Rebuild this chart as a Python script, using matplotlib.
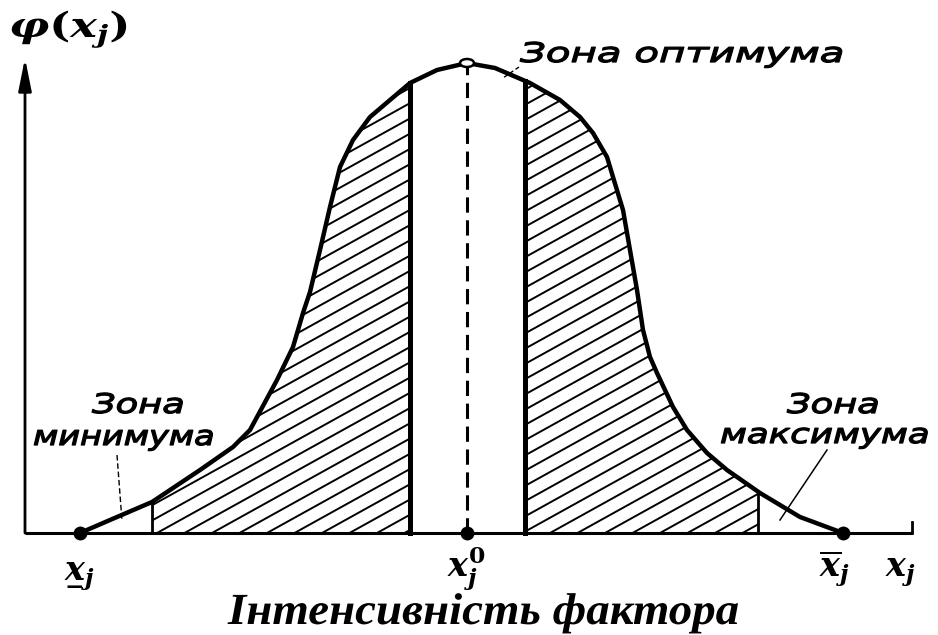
import numpy as np
import matplotlib
matplotlib.use("Agg")
import matplotlib.pyplot as plt
from matplotlib import patheffects
from matplotlib.transforms import Affine2D
from matplotlib.patches import Polygon, Ellipse

plt.rcParams['mathtext.fontset'] = 'custom'
plt.rcParams['mathtext.it'] = 'DejaVu Serif:italic:bold'
plt.rcParams['mathtext.rm'] = 'DejaVu Serif:bold'
plt.rcParams['mathtext.bf'] = 'DejaVu Serif:italic:bold'

# ---------------- data ----------------
# factor intensity (x) and response phi(x) in drawing units
curve_x = [55, 85, 127, 175, 208, 225, 252, 268, 278, 285, 295, 305, 315, 328,
           345, 365, 385, 412, 442, 470, 505, 535, 555, 568, 582, 588, 598, 605,
           612, 618, 625, 632, 648, 662, 682, 702, 735, 775, 818]
curve_y = [0, 13, 31, 63, 86, 103, 153, 186, 220, 241, 283, 326, 366, 393,
           416, 433, 450, 463, 470, 465, 450, 433, 416, 400, 376, 356, 323, 283,
           243, 203, 176, 160, 126, 103, 80, 63, 40, 16, 0]

x_min, x_opt, x_max = 55, 442, 818           # lower limit, optimum, upper limit
zone_left = [127, 385]                       # hatched zone (left of optimum)
zone_right = [500, 733]                      # hatched zone (right of optimum)
x_axis_end = 887
y_axis_top = 475

title = "Інтенсивність фактора"
label_opt = ["Зона оптимума"]
label_min = ["Зона", "минимума"]
label_max = ["Зона", "максимума"]

# ---------------- figure ----------------
fig = plt.figure(figsize=(9.38, 6.35), dpi=100)
ax = fig.add_axes([0, 0, 1, 1])
ax.set_xlim(-25, 913)
ax.set_ylim(-102, 533)
ax.axis('off')

cx = np.array(curve_x, float)
cy = np.array(curve_y, float)

def yc(x):
    return float(np.interp(x, cx, cy))

# axes
ax.plot([0, x_axis_end], [0, 0], color='black', lw=2.2, solid_capstyle='butt', zorder=3)
ax.plot([x_axis_end, x_axis_end], [0, 11], color='black', lw=2, zorder=3)
ax.annotate('', xy=(0, y_axis_top), xytext=(0, 0),
            arrowprops=dict(arrowstyle='-|>,head_length=1.4,head_width=0.28',
                            color='black', lw=2, mutation_scale=14,
                            shrinkA=0, shrinkB=0), zorder=3)

# hatched zones
tan_a = np.tan(np.radians(29))
spacing = 27.5
for (a, b), x0 in ((zone_left, 132), (zone_right, 525)):
    m = (cx > a) & (cx < b)
    px = [a, a] + list(cx[m]) + [b, b]
    py = [0, yc(a)] + list(cy[m]) + [yc(b), 0]
    poly = Polygon(np.column_stack([px, py]), closed=True, fc='none', ec='none')
    ax.add_patch(poly)
    for c in np.arange(x0 - 40 * spacing, b + spacing, spacing):
        ln, = ax.plot([c, c + 1000], [0, 1000 * tan_a], color='black', lw=1.4, zorder=2)
        ln.set_clip_path(poly)

# zone boundaries
for xb in zone_left[1:] + zone_right[:1]:
    ax.plot([xb, xb], [0, yc(xb)], color='black', lw=3.6, zorder=3)
for xb in zone_left[:1] + zone_right[1:]:
    ax.plot([xb, xb], [0, yc(xb)], color='black', lw=2, zorder=3)

# optimum dashed line
ax.plot([x_opt, x_opt], [0, yc(x_opt)], color='black', lw=2.2,
        linestyle=(0, (5, 2.5)), zorder=3)

# curve
ax.plot(cx, cy, color='black', lw=3.2, solid_joinstyle='round',
        solid_capstyle='round', zorder=4)

# points
ax.plot([x_min, x_opt, x_max], [0, 0, 0], 'o', color='black', ms=10,
        markeredgewidth=0, zorder=5)
ax.add_patch(Ellipse((x_opt, yc(x_opt)), 14, 8, fc='white', ec='black', lw=1.8, zorder=6))

# leader lines
ax.plot([92, 97], [78, 12], color='black', lw=1, linestyle=(0, (4, 2)), zorder=3)
ax.plot([802, 755], [83, 13], color='black', lw=1.1, zorder=3)
ax.plot([494, 478], [466, 455], color='black', lw=1, linestyle=(0, (3, 2)), zorder=3)


# ---------------- text ----------------
class Stretch(patheffects.AbstractPathEffect):
    def __init__(self, sx, stroke=0.0):
        super().__init__()
        self.sx = sx
        self.stroke = stroke

    def draw_path(self, renderer, gc, tpath, affine, rgbFace=None):
        aff = Affine2D().scale(self.sx, 1) + affine
        renderer.draw_path(gc, tpath, aff, rgbFace)
        if self.stroke > 0:
            gc0 = renderer.new_gc()
            gc0.copy_properties(gc)
            gc0.set_linewidth(self.stroke)
            gc0.set_foreground('black')
            gc0.set_joinstyle('round')
            renderer.draw_path(gc0, tpath, aff, None)
            gc0.restore()


lab_kw = dict(family='DejaVu Sans', style='italic', fontsize=19.5, color='black',
              ha='left', va='baseline')
# (text, left x, baseline y, target width, stroke) in drawing units
stretched = [
    (label_opt[0], 495, 471, 325),
    (label_min[0], 67, 120, 93),
    (label_min[1], 8, 88, 182),
    (label_max[0], 762, 120, 93),
    (label_max[1], 695, 90, 210),
]
texts = []
for s, x, y, w in stretched:
    texts.append((ax.text(x, y, s, **lab_kw), w, 0.9))

t_title = ax.text(203, -91, title, family='Liberation Serif', style='italic',
                  weight='bold', fontsize=32, ha='left', va='baseline')
texts.append((t_title, 512, 0.0))

t_phi = ax.text(-16, 496, r'$\varphi(x_j)$', fontsize=25, ha='left', va='baseline')
texts.append((t_phi, 120, 0.0))

t_under = ax.text(x_min, -44, r'$\underset{\mathbf{-}}{x}_j$', fontsize=24,
                  ha='center', va='baseline')
ax.text(x_opt, -44, r'$x_j^0$', fontsize=24, ha='center', va='baseline')
ax.text(x_max - 8, -44, r'$\overline{x}_j$', fontsize=24, ha='center', va='baseline')
ax.text(875, -44, r'$x_j$', fontsize=24, ha='center', va='baseline')

try:
    fig.canvas.draw()
except Exception:
    t_under.set_text(r'$x_j$')
    fig.canvas.draw()

r = fig.canvas.get_renderer()
for t, w, st in texts:
    bb = t.get_window_extent(r)
    t.set_path_effects([Stretch(w / bb.width, st)])

fig.savefig('out.png', dpi=100)
